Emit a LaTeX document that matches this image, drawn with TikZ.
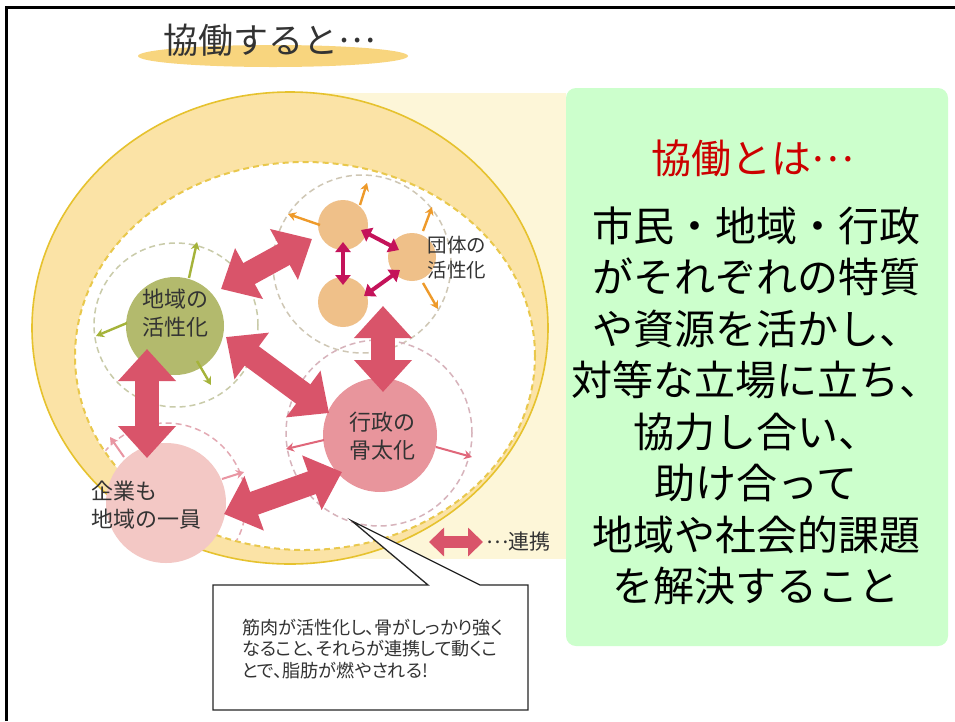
\documentclass[tikz,border=0pt]{standalone}
\usepackage{fontspec}
\newfontfamily\jp{Noto Sans CJK JP}
\newfontfamily\jpp[RawFeature=+palt]{Noto Sans CJK JP}
\newcommand{\midell}{\raisebox{0.3em}{…}}
\usetikzlibrary{arrows.meta}
\definecolor{cream}{HTML}{FDF6D8}
\definecolor{ringfill}{HTML}{FBE3A6}
\definecolor{ringline}{HTML}{E6C22E}
\definecolor{innerdash}{HTML}{E9C84C}
\definecolor{bigred}{HTML}{D9546A}
\definecolor{magarr}{HTML}{C4135A}
\definecolor{orarr}{HTML}{EE9A2A}
\definecolor{orcirc}{HTML}{EFC089}
\definecolor{grcirc}{HTML}{B3BA6D}
\definecolor{grarr}{HTML}{A5B33A}
\definecolor{gyocirc}{HTML}{E8959C}
\definecolor{pinkarr}{HTML}{E0677A}
\definecolor{kigcirc}{HTML}{F3C8C5}
\definecolor{dashA}{HTML}{CFC7B5}
\definecolor{dashB}{HTML}{C9CBA9}
\definecolor{dashC}{HTML}{D7B3BB}
\definecolor{dashD}{HTML}{E3A9B3}
\definecolor{greenbox}{HTML}{CCFFCC}
\definecolor{titleell}{HTML}{F8D57E}
\definecolor{txt}{HTML}{333333}
\definecolor{redtxt}{HTML}{CC0000}
\tikzset{
  bigarr/.style={draw=bigred, line width=24pt, {Triangle[length=32pt,width=56pt]}-{Triangle[length=32pt,width=56pt]}},
  legarr/.style={draw=bigred, line width=12pt, {Triangle[length=15pt,width=28pt]}-{Triangle[length=15pt,width=28pt]}},
  magdbl/.style={draw=magarr, line width=4pt, {Triangle[length=10pt,width=15pt]}-{Triangle[length=10pt,width=15pt]}},
  smallarr/.style={line width=2.4pt, -{Stealth[length=8pt,width=9pt]}},
  dashring/.style={line width=1.5pt, dash pattern=on 6pt off 4pt},
  circlab/.style={font=\jp\fontsize{22}{28}\selectfont, text=txt, align=center, inner sep=0pt},
  dot/.style={circle, inner sep=0pt, minimum size=#1}
}
\begin{document}
\begin{tikzpicture}[x=1pt,y=-1pt]
\useasboundingbox (0,0) rectangle (955,721);
\fill[white] (0,0) rectangle (955,721);
% cream background
\fill[cream] (292,93) rectangle (566,559);
% big ring
\fill[ringfill] (290,328) ellipse [x radius=258pt, y radius=236pt];
\draw[ringline, line width=1.6pt] (290,328) ellipse [x radius=258pt, y radius=236pt];
\fill[white] (305,356) ellipse [x radius=230pt, y radius=194pt];
\draw[innerdash, line width=2pt, dash pattern=on 6pt off 4pt] (305,356) ellipse [x radius=230pt, y radius=194pt];
% dashed rings
\begin{scope}
\clip (305,356) ellipse [x radius=229pt, y radius=193pt];
\draw[dashring, dashA] (362,264) circle [radius=89pt];
\draw[dashring, dashB] (176,325) circle [radius=82pt];
\draw[dashring, dashC] (379,433) circle [radius=93pt];
\draw[dashring, dashD] (166,503) circle [radius=80pt];
\end{scope}
% circles
\node[dot=50pt, fill=orcirc] (d1) at (343,225) {};
\node[dot=48pt, fill=orcirc] (d2) at (412,257) {};
\node[dot=50pt, fill=orcirc] (d3) at (343,302) {};
\node[dot=98pt, fill=grcirc] (chiiki) at (175,326) {};
\node[dot=114pt, fill=gyocirc] (gyosei) at (380,435) {};
\node[dot=120pt, fill=kigcirc] (kigyo) at (166,503) {};
% small outward arrows
\coordinate (o1a) at (360,205); \coordinate (o1b) at (367,183);
\coordinate (o2a) at (320,225); \coordinate (o2b) at (288,214);
\coordinate (o3a) at (423,231); \coordinate (o3b) at (432,207);
\coordinate (o4a) at (423,283); \coordinate (o4b) at (438,309);
\draw[smallarr, orarr] (o1a) -- (o1b);
\draw[smallarr, orarr] (o2a) -- (o2b);
\draw[smallarr, orarr] (o3a) -- (o3b);
\draw[smallarr, orarr] (o4a) -- (o4b);
\coordinate (g1a) at (189,278); \coordinate (g1b) at (197,242);
\coordinate (g2a) at (127,323); \coordinate (g2b) at (96,336);
\coordinate (g3a) at (197,361); \coordinate (g3b) at (211,385);
\draw[smallarr, grarr] (g1a) -- (g1b);
\draw[smallarr, grarr] (g2a) -- (g2b);
\draw[smallarr, grarr] (g3a) -- (g3b);
\coordinate (p1a) at (324,440); \coordinate (p1b) at (286,449);
\coordinate (p2a) at (436,447); \coordinate (p2b) at (472,457);
\draw[smallarr, pinkarr, line width=2pt] (p1a) -- (p1b);
\draw[smallarr, pinkarr, line width=2pt] (p2a) -- (p2b);
\coordinate (k1a) at (124,457); \coordinate (k1b) at (110,437);
\coordinate (k2a) at (222,479); \coordinate (k2b) at (244,472);
\draw[smallarr, pinkarr!70, line width=2pt] (k1a) -- (k1b);
\draw[smallarr, pinkarr!70, line width=2pt] (k2a) -- (k2b);
% magenta arrows between group circles
\coordinate (m1a) at (361,230); \coordinate (m1b) at (399,250);
\coordinate (m2a) at (343,242); \coordinate (m2b) at (343,285);
\coordinate (m3a) at (364,296); \coordinate (m3b) at (400,270);
\draw[magdbl] (m1a) -- (m1b);
\draw[magdbl] (m2a) -- (m2b);
\draw[magdbl] (m3a) -- (m3b);
% big red arrows
\coordinate (a1a) at (221,289); \coordinate (a1b) at (312,239);
\coordinate (a2a) at (226,337); \coordinate (a2b) at (329,413);
\coordinate (a3a) at (383,306); \coordinate (a3b) at (383,392);
\coordinate (a4a) at (147,349); \coordinate (a4b) at (147,458);
\coordinate (a5a) at (224,514); \coordinate (a5b) at (342,472);
\draw[bigarr] (a1a) -- (a1b);
\draw[bigarr] (a2a) -- (a2b);
\draw[bigarr] (a3a) -- (a3b);
\draw[bigarr] (a4a) -- (a4b);
\draw[bigarr] (a5a) -- (a5b);
% labels
\node[circlab, font=\jp\fontsize{19.5}{25}\selectfont] (dantaiLab) at (457,258) {団体の\\活性化};
\node[circlab] (chiikiLab) at (175,313) {地域の\\活性化};
\node[circlab] (gyoseiLab) at (382,436) {行政の\\骨太化};
\node[circlab, align=left, anchor=west] (kigyoLab) at (91,505) {企業も\\地域の一員};
% legend
\coordinate (l1) at (429,542); \coordinate (l2) at (483,542);
\draw[legarr] (l1) -- (l2);
\node[font=\jp\fontsize{21}{24}\selectfont, text=txt, anchor=west, inner sep=0pt] (legLab) at (486,542) {\midell 連携};
% callout
\filldraw[fill=white, draw=black!85, line width=1.3pt] (213,585) -- (428,585) -- (352,521) -- (480,585) -- (528,585) -- (528,710) -- (213,710) -- cycle;
\node[font=\jpp\fontsize{18.1}{21.8}\selectfont, text=txt, align=left, anchor=west, inner sep=0pt] (callLab) at (242,649) {筋肉が活性化し、骨がしっかり強く\\なること、それらが連携して動くこ\\とで、脂肪が燃やされる!};
% green box
\fill[greenbox, rounded corners=10pt] (566,88) rectangle (948,646);
\node[font=\jp\fontsize{40}{48}\selectfont, text=redtxt, inner sep=0pt] (kyoTitle) at (753,158) {協働とは\midell};
\node[font=\jp\fontsize{41}{51.5}\selectfont, text=black, align=center, inner sep=0pt] (kyoText) at (756,406) {市民・地域・行政\\がそれぞれの特質\\や資源を活かし、\\対等な立場に立ち、\\協力し合い、\\助け合って\\地域や社会的課題\\を解決すること};
% title
\fill[titleell] (273,56) ellipse [x radius=135pt, y radius=11pt];
\node[font=\jp\fontsize{35}{40}\selectfont, text=txt, inner sep=0pt] (mainTitle) at (270,40) {協働すると\midell};
% frame
\draw[black, line width=3pt] (6.5,721) -- (6.5,7.5) -- (955,7.5);
\end{tikzpicture}
\end{document}
